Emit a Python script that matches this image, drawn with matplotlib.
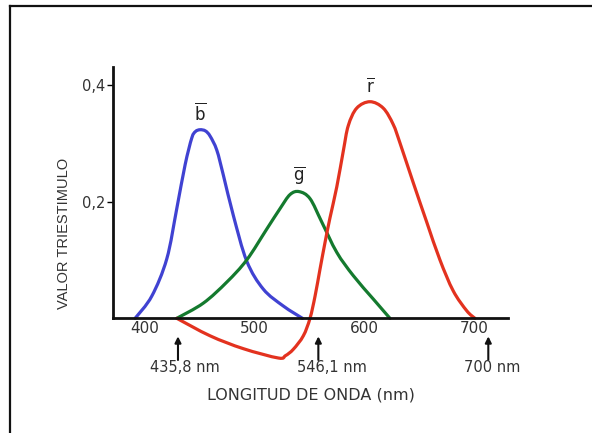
import matplotlib.pyplot as plt
from matplotlib.lines import Line2D
from matplotlib.path import Path
from matplotlib.patches import PathPatch

# curve values (wavelength nm, tristimulus value)
b_nm = [390.9, 406.1, 419.8, 428.9, 436.5, 442.6, 446.0, 450.1, 455.0, 459.3, 465.4,
        471.4, 480.5, 492.7, 507.8, 526.1, 543.5]
b_val = [0.0, 0.038, 0.102, 0.188, 0.263, 0.309, 0.320, 0.323, 0.321, 0.312, 0.288,
         0.245, 0.176, 0.098, 0.050, 0.021, 0.0]

g_nm = [428.9, 453.1, 474.5, 492.7, 511.0, 523.1, 532.2, 540.5, 550.4, 561.1, 574.8,
        589.9, 608.1, 623.3]
g_val = [0.0, 0.026, 0.062, 0.100, 0.153, 0.188, 0.212, 0.217, 0.205, 0.165, 0.113,
         0.073, 0.033, 0.0]

r_nm = [428.9, 459.3, 489.6, 521.5, 528.0, 535.2, 544.3, 550.4, 555.0, 559.5, 564.1,
        568.6, 574.8, 580.8, 585.3, 593.0, 605.1, 617.2, 626.3, 632.5, 644.6, 656.8,
        668.9, 681.0, 693.3, 700.8]
r_val = [0.0, -0.030, -0.052, -0.068, -0.064, -0.053, -0.030, 0.0, 0.038, 0.084, 0.130,
         0.172, 0.225, 0.287, 0.330, 0.360, 0.371, 0.360, 0.332, 0.300, 0.232, 0.165,
         0.100, 0.047, 0.013, 0.0]

curve_names = [r'$\overline{\mathrm{b}}$', r'$\overline{\mathrm{g}}$', r'$\overline{\mathrm{r}}$']
curve_colors = ['#4042d2', '#147a2e', '#e3321f']

x_ticks = [400, 500, 600, 700]
y_ticks = [0.2, 0.4]
y_tick_labels = ['0,2', '0,4']

# primary wavelengths marked with arrows (positions as drawn in the picture)
arrow_nm = [430.0, 558.0, 713.0]
arrow_labels = ['435,8 nm', '546,1 nm', '700 nm']
label_shift = [5, 10, 3]


def smooth_path(xs, ys):
    # catmull-rom through the read points, drawn as bezier segments
    pts = list(zip(xs, ys))
    verts = [pts[0]]
    codes = [Path.MOVETO]
    n = len(pts)
    for i in range(n - 1):
        p0 = pts[i - 1] if i > 0 else pts[i]
        p1 = pts[i]
        p2 = pts[i + 1]
        p3 = pts[i + 2] if i + 2 < n else p2
        c1 = (p1[0] + (p2[0] - p0[0]) / 6, p1[1] + (p2[1] - p0[1]) / 6)
        c2 = (p2[0] - (p3[0] - p1[0]) / 6, p2[1] - (p3[1] - p1[1]) / 6)
        verts += [c1, c2, p2]
        codes += [Path.CURVE4] * 3
    return Path(verts, codes)


fig = plt.figure(figsize=(5.92, 4.33), dpi=100)
ax = fig.add_axes([0.191, 0.157, 0.667, 0.689])

for xs, ys, c, name in zip([b_nm, g_nm, r_nm], [b_val, g_val, r_val], curve_colors, curve_names):
    ax.add_patch(PathPatch(smooth_path(xs, ys), fill=False, edgecolor=c, lw=2.3,
                           joinstyle='round', capstyle='round'))
    i = ys.index(max(ys))
    ax.annotate(name, xy=(xs[i], ys[i]), xytext=(0, 4), textcoords='offset points',
                ha='center', va='bottom', fontsize=12, color='#222222')

ax.set_xlim(370.8, 730.9)
ax.set_ylim(-0.08, 0.431)

ax.spines['top'].set_visible(False)
ax.spines['right'].set_visible(False)
ax.spines['bottom'].set_position(('data', 0))
ax.spines['left'].set_bounds(0, 0.431)
for s in ['left', 'bottom']:
    ax.spines[s].set_linewidth(2)
    ax.spines[s].set_color('#111111')

ax.set_xticks(x_ticks)
ax.set_xticklabels([str(t) for t in x_ticks])
ax.set_yticks(y_ticks)
ax.set_yticklabels(y_tick_labels)
ax.tick_params(axis='x', length=0, pad=2, labelsize=11, labelcolor='#333333')
ax.tick_params(axis='y', length=4.5, width=1, pad=1, labelsize=10.5, labelcolor='#333333')
for lab in ax.get_xticklabels() + ax.get_yticklabels():
    lab.set_family('DejaVu Sans')

for x, txt, dx in zip(arrow_nm, arrow_labels, label_shift):
    ax.annotate('', xy=(x, 0), xycoords='data', xytext=(0, -30), textcoords='offset points',
                arrowprops=dict(arrowstyle='-|>', color='#111111', lw=1.5,
                                mutation_scale=9, shrinkA=0, shrinkB=13))
    ax.annotate(txt, xy=(x, 0), xytext=(dx, -35.5), textcoords='offset points',
                ha='center', va='center', fontsize=10.5, color='#333333', annotation_clip=False)

fig.text(0.526, 0.088, 'LONGITUD DE ONDA (nm)', ha='center', va='center',
         fontsize=11.5, color='#333333', family='DejaVu Sans')
fig.text(0.108, 0.46, 'VALOR TRIESTIMULO', ha='center', va='center', rotation=90,
         fontsize=10.5, color='#333333', family='Liberation Sans')

# frame lines at the top and left of the picture
fig.add_artist(Line2D([10 / 592, 10 / 592], [0, 1 - 6 / 433], transform=fig.transFigure,
                      color='#111111', lw=1.6))
fig.add_artist(Line2D([10 / 592, 1], [1 - 6 / 433, 1 - 6 / 433], transform=fig.transFigure,
                      color='#111111', lw=1.6))

fig.savefig('out.png', dpi=100)
